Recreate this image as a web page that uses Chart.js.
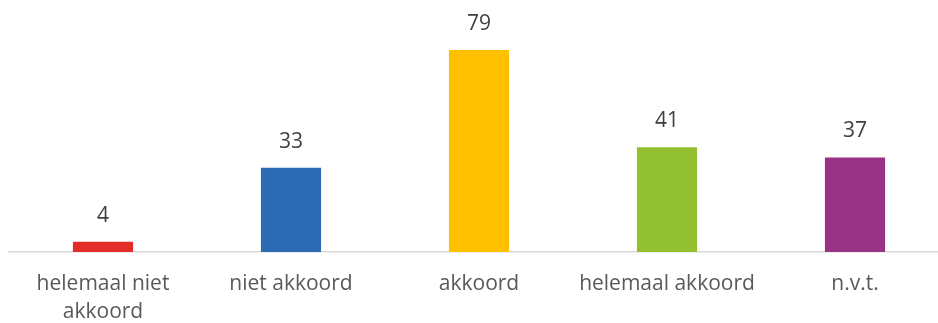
<!DOCTYPE html>
<html>
<head>
<meta charset="utf-8">
<script src="https://cdn.jsdelivr.net/npm/chart.js@4/dist/chart.umd.min.js"></script>
<style>
  html, body { margin: 0; padding: 0; background: #fff; overflow: hidden; }
  #wrap { width: 950px; height: 323px; }
</style>
</head>
<body>
<div id="wrap"><canvas id="answers"></canvas></div>
<script>
const categories = [['helemaal niet', 'akkoord'], 'niet akkoord', 'akkoord', 'helemaal akkoord', 'n.v.t.'];
const counts = [4, 33, 79, 41, 37];
const barColors = ['#E32D28', '#2E6BB5', '#FFC000', '#92C030', '#993385'];

// writes the count above each bar
const valueLabels = {
  id: 'valueLabels',
  afterDatasetsDraw(chart) {
    const ctx = chart.ctx;
    const meta = chart.getDatasetMeta(0);
    ctx.save();
    ctx.font = '21px "Open Sans"';
    ctx.fillStyle = '#404040';
    ctx.textAlign = 'center';
    ctx.textBaseline = 'middle';
    meta.data.forEach((bar, i) => {
      ctx.fillText(String(counts[i]), bar.x, bar.y - 26);
    });
    ctx.restore();
  }
};

new Chart(document.getElementById('answers'), {
  type: 'bar',
  data: {
    labels: categories,
    datasets: [{
      data: counts,
      backgroundColor: barColors,
      barPercentage: 0.32,
      categoryPercentage: 1
    }]
  },
  options: {
    responsive: true,
    maintainAspectRatio: false,
    animation: false,
    layout: { padding: { left: 9, right: 1, top: 22, bottom: 0 } },
    scales: {
      x: {
        grid: { display: false },
        border: { display: true, color: '#D9D9D9', width: 1.5 },
        ticks: {
          color: '#595959',
          font: { family: '"Open Sans"', size: 21, lineHeight: 1.33 },
          padding: 10,
          maxRotation: 0,
          autoSkip: false
        },
        afterFit(scale) { scale.height = 71; }
      },
      y: {
        display: false,
        min: 0,
        max: 90
      }
    },
    plugins: {
      legend: { display: false },
      tooltip: { enabled: false }
    }
  },
  plugins: [valueLabels]
});
</script>
</body>
</html>
